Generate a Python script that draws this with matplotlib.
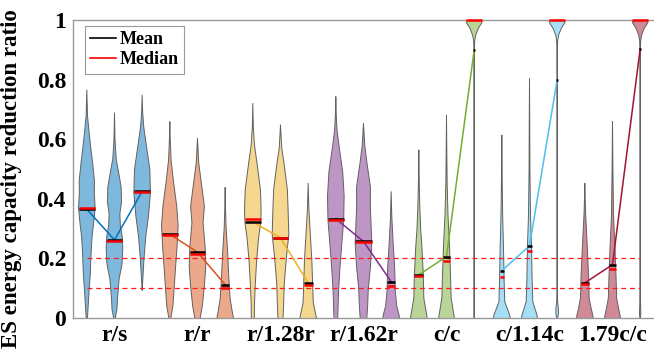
import numpy as np
import matplotlib.pyplot as plt

plt.rcParams['font.family'] = 'Liberation Serif'
plt.rcParams['font.weight'] = 'bold'

group_labels = ['r/s', 'r/r', 'r/1.28r', 'r/1.62r', 'c/c', 'c/1.14c', '1.79c/c']

# MATLAB default line colours, one per group
group_colors = [(0.000, 0.447, 0.741), (0.850, 0.325, 0.098), (0.929, 0.694, 0.125),
                (0.494, 0.184, 0.556), (0.466, 0.674, 0.188), (0.301, 0.745, 0.933),
                (0.635, 0.078, 0.184)]

means = [0.365, 0.262, 0.425,
         0.281, 0.221, 0.112,
         0.322, 0.269, 0.118,
         0.333, 0.257, 0.122,
         0.145, 0.206, 0.899,
         0.159, 0.242, 0.799,
         0.118, 0.179, 0.903]

medians = [0.369, 0.259, 0.422,
           0.278, 0.215, 0.100,
           0.333, 0.267, 0.112,
           0.329, 0.256, 0.107,
           0.141, 0.192, 1.000,
           0.139, 0.225, 1.000,
           0.114, 0.165, 1.000]

# violin outlines: (ratio, relative half width)
profiles = [
    [(0, 0.08), (0.02, 0.12), (0.08, 0.25), (0.15, 0.42), (0.21, 0.5), (0.27, 0.62), (0.32, 0.83), (0.37, 1.0), (0.42, 0.9), (0.46, 0.92), (0.52, 0.7), (0.575, 0.46), (0.63, 0.25), (0.68, 0.08), (0.765, 0)],
    [(0, 0.1), (0.03, 0.3), (0.06, 0.35), (0.13, 0.55), (0.18, 0.9), (0.23, 1.0), (0.27, 0.95), (0.31, 0.7), (0.35, 0.65), (0.39, 0.85), (0.44, 0.8), (0.48, 0.55), (0.535, 0.2), (0.6, 0.06), (0.688, 0)],
    [(0.094, 0), (0.13, 0.08), (0.19, 0.2), (0.27, 0.42), (0.34, 0.75), (0.42, 1.0), (0.5, 0.92), (0.58, 0.5), (0.64, 0.2), (0.69, 0.06), (0.748, 0)],
    [(0, 0.12), (0.04, 0.37), (0.107, 0.54), (0.174, 0.7), (0.24, 0.87), (0.31, 1.0), (0.375, 0.83), (0.463, 0.42), (0.53, 0.15), (0.6, 0.05), (0.659, 0)],
    [(0, 0.33), (0.04, 0.58), (0.107, 0.83), (0.174, 1.0), (0.24, 0.92), (0.32, 0.67), (0.375, 0.83), (0.463, 0.42), (0.52, 0.15), (0.603, 0)],
    [(0, 1.0), (0.006, 0.95), (0.03, 0.8), (0.065, 0.6), (0.13, 0.45), (0.22, 0.3), (0.3, 0.12), (0.37, 0.04), (0.438, 0)],
    [(0, 0.18), (0.05, 0.2), (0.114, 0.3), (0.19, 0.45), (0.27, 0.7), (0.32, 0.95), (0.36, 1.0), (0.43, 0.92), (0.52, 0.5), (0.58, 0.2), (0.64, 0.06), (0.72, 0)],
    [(0, 0.3), (0.04, 0.37), (0.114, 0.45), (0.2, 0.7), (0.28, 1.0), (0.36, 0.92), (0.43, 0.83), (0.52, 0.42), (0.57, 0.15), (0.648, 0)],
    [(0, 1.0), (0.02, 0.85), (0.05, 0.62), (0.1, 0.55), (0.19, 0.45), (0.3, 0.22), (0.37, 0.08), (0.452, 0)],
    [(0, 0.22), (0.02, 0.25), (0.09, 0.33), (0.17, 0.5), (0.26, 0.75), (0.33, 0.95), (0.41, 1.0), (0.49, 0.83), (0.57, 0.42), (0.63, 0.15), (0.68, 0.05), (0.743, 0)],
    [(0, 0.4), (0.04, 0.5), (0.1, 0.58), (0.17, 0.83), (0.25, 1.0), (0.31, 0.92), (0.37, 0.83), (0.44, 0.83), (0.52, 0.42), (0.58, 0.15), (0.653, 0)],
    [(0, 1.0), (0.01, 0.95), (0.04, 0.67), (0.09, 0.5), (0.17, 0.42), (0.26, 0.22), (0.34, 0.08), (0.424, 0)],
    [(0, 1.0), (0.01, 0.95), (0.034, 0.8), (0.067, 0.6), (0.144, 0.54), (0.235, 0.38), (0.3, 0.22), (0.37, 0.12), (0.45, 0.05), (0.564, 0)],
    [(0, 0.93), (0.01, 0.9), (0.034, 0.75), (0.067, 0.56), (0.144, 0.48), (0.235, 0.37), (0.346, 0.18), (0.45, 0.08), (0.55, 0.04), (0.681, 0)],
    [(0, 0.0), (0.01, 0.04), (0.05, 0.04), (0.9, 0.03), (0.93, 0.06), (0.95, 0.2), (0.972, 0.5), (0.99, 0.9), (1.0, 1.0)],
    [(0, 1.0), (0.01, 0.95), (0.034, 0.62), (0.055, 0.35), (0.122, 0.28), (0.235, 0.2), (0.346, 0.1), (0.45, 0.05), (0.614, 0)],
    [(0, 0.95), (0.01, 0.9), (0.028, 0.7), (0.055, 0.4), (0.122, 0.32), (0.235, 0.25), (0.346, 0.12), (0.5, 0.05), (0.65, 0.03), (0.803, 0)],
    [(0, 0.0), (0.005, 0.1), (0.017, 0.16), (0.034, 0.14), (0.055, 0.05), (0.1, 0.03), (0.9, 0.03), (0.93, 0.06), (0.95, 0.18), (0.972, 0.5), (0.99, 0.9), (1.0, 1.0)],
    [(0, 1.0), (0.01, 0.95), (0.034, 0.75), (0.067, 0.52), (0.144, 0.45), (0.235, 0.3), (0.346, 0.1), (0.4, 0.04), (0.452, 0)],
    [(0, 0.95), (0.01, 0.9), (0.034, 0.72), (0.067, 0.5), (0.144, 0.42), (0.235, 0.3), (0.346, 0.12), (0.5, 0.05), (0.659, 0)],
    [(0, 0.0), (0.005, 0.06), (0.02, 0.08), (0.04, 0.05), (0.1, 0.03), (0.9, 0.03), (0.93, 0.06), (0.95, 0.18), (0.972, 0.5), (0.99, 0.9), (1.0, 1.0)],
]

thresholds = [0.1, 0.2]

half_w = 0.3   # max half width of each violin in x units

fig = plt.figure(figsize=(6.54, 3.56), dpi=100)
ax = fig.add_axes([0.1116, 0.1067, 0.8884, 0.8371])

positions = np.arange(1, len(profiles) + 1)

for i, prof in enumerate(profiles):
    c = group_colors[i // 3]
    py = np.array([p[0] for p in prof])
    pw = np.array([p[1] for p in prof]) * half_w
    x = positions[i]
    xs = np.concatenate([x - pw, (x + pw)[::-1]])
    ys = np.concatenate([py, py[::-1]])
    ax.fill(xs, ys, facecolor=c, alpha=0.5, edgecolor='none', zorder=2)
    ax.plot(xs, ys, color=(0.38, 0.38, 0.38), lw=0.7, zorder=2)

# dashed thresholds
for t in thresholds:
    ax.plot([positions[0], positions[-1]], [t, t], color=(1, 0.1, 0.1), lw=0.9,
            ls=(0, (4, 3)), zorder=3)

# connecting lines between means within a group
for g in range(len(group_labels)):
    idx = slice(3 * g, 3 * g + 3)
    ax.plot(positions[idx], means[idx], color=group_colors[g], lw=1.1, zorder=4)

# mean and median bars span the violin width at that height
for i, prof in enumerate(profiles):
    py = np.array([p[0] for p in prof])
    pw = np.array([p[1] for p in prof]) * half_w
    x = positions[i]
    wm = max(np.interp(means[i], py, pw), 0.03)
    wd = max(np.interp(medians[i], py, pw), 0.03)
    ax.plot([x - wm, x + wm], [means[i], means[i]], color='k', lw=1.8, zorder=5,
            solid_capstyle='butt', clip_on=False)
    ax.plot([x - wd, x + wd], [medians[i], medians[i]], color=(1, 0, 0), lw=1.8, zorder=6,
            solid_capstyle='butt', clip_on=False)

ax.set_xlim(0.5, 21.5)
ax.set_ylim(0, 1)
ax.set_xticks(positions[1::3])
ax.set_xticklabels(group_labels)
ax.set_yticks([0, 0.2, 0.4, 0.6, 0.8, 1])
ax.set_yticklabels(['0', '0.2', '0.4', '0.6', '0.8', '1'])
ax.tick_params(length=0, labelsize=17, pad=5)
for s in ['left', 'bottom', 'top']:
    ax.spines[s].set_color((0.6, 0.6, 0.6))
    ax.spines[s].set_linewidth(1.0)
ax.spines['right'].set_visible(False)
ax.set_ylabel('ES energy capacity reduction ratio', fontsize=16.5, fontweight='bold')
ax.yaxis.set_label_coords(-0.088, 0.468)

h1, = ax.plot([], [], color='k', lw=1.2, label='Mean')
h2, = ax.plot([], [], color=(1, 0, 0), lw=1.2, label='Median')
leg = ax.legend(handles=[h1, h2], loc='upper left', bbox_to_anchor=(0.005, 1.01),
                fontsize=13, handlelength=1.4, handletextpad=0.2, borderpad=0.3,
                labelspacing=0.15, fancybox=False, framealpha=1)
leg.get_frame().set_edgecolor((0.6, 0.6, 0.6))
leg.get_frame().set_linewidth(0.8)

fig.savefig('out.png', dpi=100)
